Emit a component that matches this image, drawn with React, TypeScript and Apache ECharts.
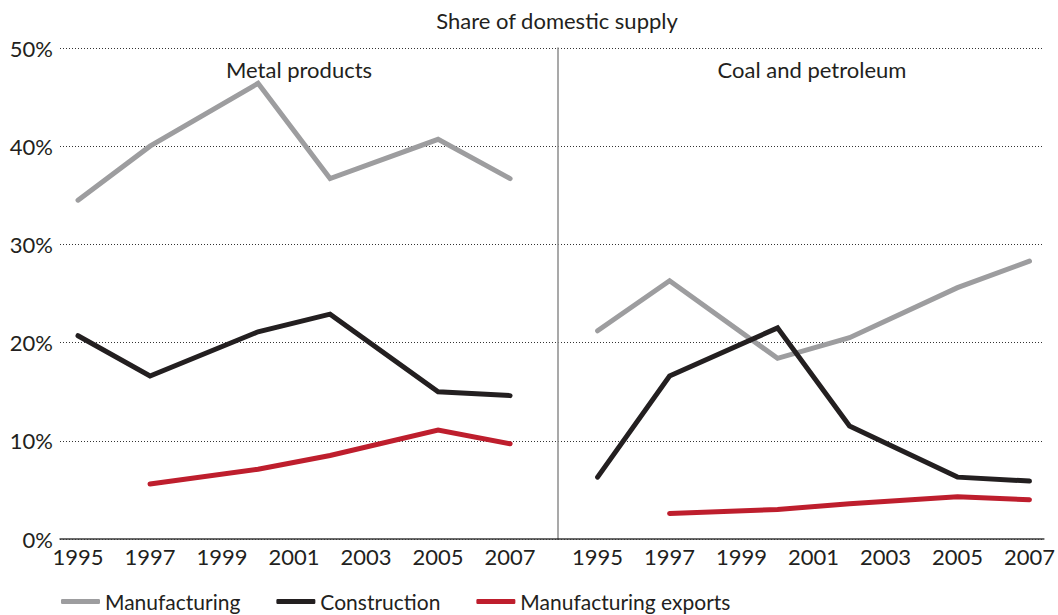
import React, { useEffect, useRef } from "react";
import * as echarts from "echarts";

const years = [1995, 1997, 2000, 2002, 2005, 2007];
const tickYears = [1995, 1997, 1999, 2001, 2003, 2005, 2007];
const seriesNames = ["Manufacturing", "Construction", "Manufacturing exports"];
const panelTitles = ["Metal products", "Coal and petroleum"];
const chartTitle = "Share of domestic supply";

const metalManufacturing = [34.5, 40.0, 46.4, 36.7, 40.7, 36.7];
const metalConstruction = [20.7, 16.6, 21.1, 22.9, 15.0, 14.6];
const metalExports = [null, 5.6, 7.1, 8.5, 11.1, 9.7];
const coalManufacturing = [21.2, 26.3, 18.4, 20.5, 25.6, 28.3];
const coalConstruction = [6.3, 16.6, 21.5, 11.5, 6.3, 5.9];
const coalExports = [null, 2.6, 3.0, 3.6, 4.3, 4.0];

const colors = ["#9d9d9f", "#231f20", "#be1e2d"];
const FONT = "Lato";
const FS = 22;

function pairs(vals: (number | null)[]) {
  const out: [number, number][] = [];
  vals.forEach((v, i) => {
    if (v !== null) out.push([years[i], v]);
  });
  return out;
}

export default function App() {
  const ref = useRef<HTMLDivElement>(null);
  useEffect(() => {
    document.body.style.margin = "0";
    const chart = echarts.init(ref.current!, null, { renderer: "svg" });
    const panels = [
      [metalManufacturing, metalConstruction, metalExports],
      [coalManufacturing, coalConstruction, coalExports],
    ];
    const series: any[] = [];
    panels.forEach((p, pi) => {
      p.forEach((vals, si) => {
        series.push({
          type: "line",
          name: seriesNames[si],
          xAxisIndex: pi,
          yAxisIndex: pi,
          data: pairs(vals),
          showSymbol: false,
          symbol: "none",
          color: colors[si],
          lineStyle: { width: 5, color: colors[si], join: "miter", cap: "round" },
          z: 3 + si,
        });
      });
    });
    const xBase = (min: number, max: number, idx: number) => ({
      type: "value",
      gridIndex: idx,
      min,
      max,
      axisLine: { show: true, lineStyle: { color: "#3a3a3a", width: 1.5 } },
      axisTick: { show: false },
      splitLine: { show: false },
      axisLabel: {
        customValues: tickYears,
        formatter: (v: number) => String(v),
        color: "#231f20",
        fontFamily: FONT,
        fontSize: FS,
        margin: 6,
      },
    });
    const yBase = (idx: number) => ({
      type: "value",
      gridIndex: idx,
      min: 0,
      max: 50,
      interval: 10,
      axisTick: { show: false },
      axisLine: idx === 1 ? { show: true, lineStyle: { color: "#8c8c8c", width: 1.5 } } : { show: false },
      splitLine: { show: true, lineStyle: { type: [1, 2], color: "#333", width: 1 } },
      axisLabel: {
        show: idx === 0,
        formatter: "{value}%",
        color: "#231f20",
        fontFamily: FONT,
        fontSize: FS,
        margin: 7,
      },
    });
    const txt = (text: string, x: number, y: number) => ({
      type: "text",
      x,
      y,
      style: { text, fontFamily: FONT, fontSize: FS, fill: "#231f20", textAlign: "center", textVerticalAlign: "middle" },
    });
    chart.setOption({
      animation: false,
      grid: [
        { left: 60, top: 48, width: 498, height: 491 },
        { left: 558, top: 48, width: 487, height: 491 },
      ],
      xAxis: [xBase(1994.5, 2008.33, 0), xBase(1993.9, 2007.4, 1)],
      yAxis: [yBase(0), yBase(1)],
      legend: {
        data: seriesNames,
        left: 56,
        top: 586,
        itemWidth: 39,
        itemHeight: 5,
        itemGap: 36,
        icon: "roundRect",
        textStyle: { fontFamily: FONT, fontSize: 21, color: "#231f20" },
      },
      graphic: [
        txt(chartTitle, 557, 20),
        txt(panelTitles[0], 299, 69),
        txt(panelTitles[1], 812, 69),
      ],
      series,
    });
    return () => chart.dispose();
  }, []);
  return <div ref={ref} style={{ width: 1058, height: 615 }} />;
}
